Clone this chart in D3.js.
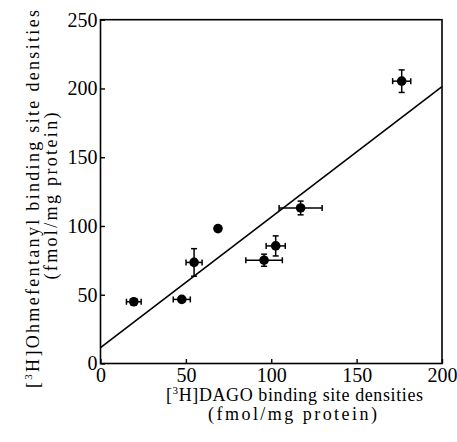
<!DOCTYPE html>
<html><head><meta charset="utf-8">
<script src="https://cdn.jsdelivr.net/npm/d3@7"></script>
<style>
html,body{margin:0;padding:0;background:#fff;}
svg{display:block;font-family:"Liberation Serif","DejaVu Serif",serif;}
</style></head>
<body>
<svg id="chart" width="457" height="442"></svg>
<script>
// Data
const dagoX   = [19.5, 47.6, 54.8, 68.8, 95.8, 102.6, 117.2, 176.4];
const ohmefY  = [44.9, 46.6, 73.5, 98.1, 75.1, 85.5, 113.1, 205.3];
const xErr    = [4.3, 5.0, 4.7, 0, 10.7, 5.6, 12.6, 5.3];
const yErr    = [0, 0, 10.0, 0, 4.4, 7.3, 5.0, 8.2];
const fitX    = [0, 200];
const fitY    = [11.5, 201.4];
const xTicks  = [0, 50, 100, 150, 200];
const yTicks  = [0, 50, 100, 150, 200, 250];

const W = 457, H = 442;
const m = {left: 100.5, right: 15, top: 19.7, bottom: 78.5};
const svg = d3.select("#chart");
const x = d3.scaleLinear().domain([0, 200]).range([m.left, W - m.right]);
const y = d3.scaleLinear().domain([0, 250]).range([H - m.bottom, m.top]);

// frame
svg.append("rect")
  .attr("x", x(0)).attr("y", y(250))
  .attr("width", x(200) - x(0)).attr("height", y(0) - y(250))
  .attr("fill", "none").attr("stroke", "#000").attr("stroke-width", 1.6);

// axes with inward ticks
const gx = svg.append("g").attr("transform", `translate(0,${y(0)})`)
  .call(d3.axisBottom(x).tickValues(xTicks).tickFormat(d3.format("d")).tickSizeInner(-4.5).tickSizeOuter(0));
const gy = svg.append("g").attr("transform", `translate(${x(0)},0)`)
  .call(d3.axisLeft(y).tickValues(yTicks).tickFormat(d3.format("d")).tickSizeInner(-4.5).tickSizeOuter(0));
[gx, gy].forEach(g => {
  g.select(".domain").remove();
  g.selectAll(".tick line").attr("stroke", "#000").attr("stroke-width", 1.4);
  g.selectAll(".tick text").attr("fill", "#000")
    .style("font-family", '"Liberation Serif",serif').style("font-size", "20px");
});
gx.selectAll(".tick text").attr("dy", null).attr("y", 18.5);
gy.selectAll(".tick text").attr("x", -3);

// fit line
svg.append("line")
  .attr("x1", x(fitX[0])).attr("y1", y(fitY[0]))
  .attr("x2", x(fitX[1])).attr("y2", y(fitY[1]))
  .attr("stroke", "#000").attr("stroke-width", 1.6);

// error bars
const pts = dagoX.map((d, i) => ({x: d, y: ohmefY[i], ex: xErr[i], ey: yErr[i]}));
const cap = 3;
const eb = svg.append("g").attr("stroke", "#000").attr("stroke-width", 1.5);
pts.forEach(p => {
  if (p.ex > 0) {
    eb.append("line").attr("x1", x(p.x - p.ex)).attr("x2", x(p.x + p.ex)).attr("y1", y(p.y)).attr("y2", y(p.y));
    [p.x - p.ex, p.x + p.ex].forEach(v =>
      eb.append("line").attr("x1", x(v)).attr("x2", x(v)).attr("y1", y(p.y) - cap).attr("y2", y(p.y) + cap));
  }
  if (p.ey > 0) {
    eb.append("line").attr("x1", x(p.x)).attr("x2", x(p.x)).attr("y1", y(p.y - p.ey)).attr("y2", y(p.y + p.ey));
    [p.y - p.ey, p.y + p.ey].forEach(v =>
      eb.append("line").attr("y1", y(v)).attr("y2", y(v)).attr("x1", x(p.x) - cap).attr("x2", x(p.x) + cap));
  }
});

// markers
svg.append("g").selectAll("circle").data(pts).join("circle")
  .attr("cx", d => x(d.x)).attr("cy", d => y(d.y)).attr("r", 4.8).attr("fill", "#000");

// titles
function title(g, pre, rest, len) {
  const t = g.append("text").attr("text-anchor", "middle").attr("fill", "#000")
    .style("font-size", "18px").attr("textLength", len).attr("lengthAdjust", "spacing");
  if (pre) {
    t.append("tspan").text("[");
    t.append("tspan").text("3").style("font-size", "11px").attr("dy", -7);
    t.append("tspan").text("H]" + rest).attr("dy", 7);
  } else {
    t.text(rest);
  }
  return t;
}
const xt1 = svg.append("g").attr("transform", "translate(294.5,401)");
title(xt1, true, "DAGO binding site densities", 257);
const xt2 = svg.append("g").attr("transform", "translate(292.5,420)");
title(xt2, false, "(fmol/mg protein)", 169);

const yt1 = svg.append("g").attr("transform", "translate(39,199) rotate(-90)");
title(yt1, true, "Ohmefentanyl binding site densities", 378);
const yt2 = svg.append("g").attr("transform", "translate(57,196) rotate(-90)");
title(yt2, false, "(fmol/mg protein)", 167);
</script>
</body></html>
